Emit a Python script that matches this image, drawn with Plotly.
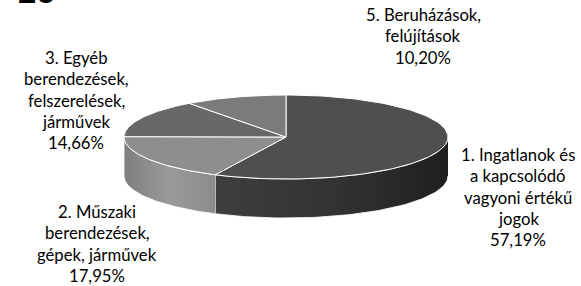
import numpy as np
import plotly.graph_objects as go

# ---- data ----
category_lines = [
    ["1. Ingatlanok és", "a kapcsolódó", "vagyoni értékű", "jogok"],
    ["2. Műszaki", "berendezések,", "gépek, járművek"],
    ["3. Egyéb", "berendezések,", "felszerelések,", "járművek"],
    ["5. Beruházások,", "felújítások"],
]
values = [57.19, 17.95, 14.66, 10.20]
value_labels = ["57,19%", "17,95%", "14,66%", "10,20%"]

# ---- styling / geometry ----
W, H = 581, 286
cx, cy, a, b, depth = 286, 137, 162, 42, 39
top_colors = ["#4f4f4f", "#8e8e8e", "#686868", "#7b7b7b"]
side_scales = [
    [[0, "#3e3e3e"], [0.5, "#333333"], [1, "#1f1f1f"]],
    [[0, "#7e7e7e"], [0.5, "#9a9a9a"], [1, "#8c8c8c"]],
    [[0, "#555555"], [1, "#555555"]],
    [[0, "#666666"], [1, "#666666"]],
]
# (center x, first line y) of each label block
label_pos = [(518, 155), (97, 212), (76, 58), (423, 15)]
line_step = 21.3
FONT = "Lato"
FSIZE = 16.7

def ex(t):
    return cx + a * np.sin(np.radians(t))

def ey(t, dy=0):
    return cy - b * np.cos(np.radians(t)) + dy

fig = go.Figure()

total = sum(values)
angles = [0]
for v in values:
    angles.append(angles[-1] + v / total * 360)

# side faces (visible front half: 90..270 deg clockwise from top)
for i in range(len(values)):
    s, e = max(angles[i], 90), min(angles[i + 1], 270)
    if e <= s:
        continue
    t = np.linspace(s, e, 80)
    xs = np.concatenate([ex(t), ex(t[::-1])])
    ys = np.concatenate([ey(t), ey(t[::-1], depth)])
    fig.add_trace(go.Scatter(
        x=xs, y=ys, mode="lines", fill="toself",
        line=dict(color="#ffffff", width=0.8),
        fillgradient=dict(type="horizontal", colorscale=side_scales[i]),
        hoverinfo="skip", showlegend=False))

# top faces
for i in range(len(values)):
    t = np.linspace(angles[i], angles[i + 1], 120)
    xs = np.concatenate([[cx], ex(t), [cx]])
    ys = np.concatenate([[cy], ey(t), [cy]])
    fig.add_trace(go.Scatter(
        x=xs, y=ys, mode="lines", fill="toself", fillcolor=top_colors[i],
        line=dict(color="#ffffff", width=1),
        hoverinfo="skip", showlegend=False))

# labels, one annotation per line
for i, (lx, ly) in enumerate(label_pos):
    lines = category_lines[i] + [value_labels[i]]
    for k, txt in enumerate(lines):
        fig.add_annotation(
            x=lx, y=ly + k * line_step, xref="x", yref="y",
            text=txt, showarrow=False, xanchor="center", yanchor="middle",
            borderpad=0,
            font=dict(family=FONT, size=FSIZE, color="#000000"))

# cropped heading number at top-left
fig.add_annotation(x=36, y=12, xref="x", yref="y", text="<b>16</b>",
                   showarrow=False, yanchor="bottom", xanchor="center",
                   font=dict(family="Liberation Sans", size=34, color="#000000"))

fig.update_layout(
    width=W, height=H, margin=dict(l=0, r=0, t=0, b=0),
    paper_bgcolor="white", plot_bgcolor="white",
    xaxis=dict(range=[0, W], visible=False, fixedrange=True),
    yaxis=dict(range=[H, 0], visible=False, fixedrange=True),
)

fig.write_html(
    "out.html",
    config={"displayModeBar": False},
    post_script="document.body.style.margin='0';document.body.style.overflow='hidden';",
)
